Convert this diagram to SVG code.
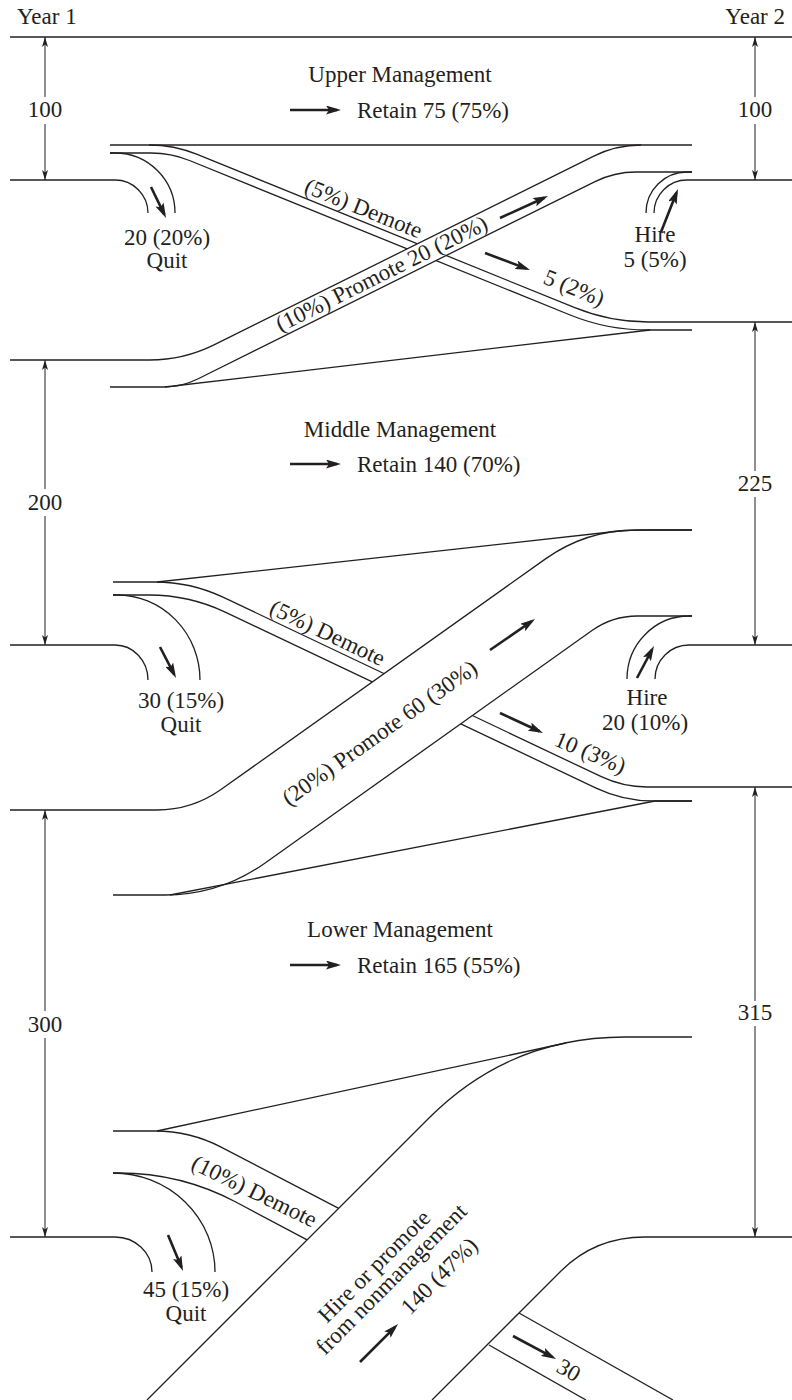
<svg xmlns="http://www.w3.org/2000/svg" width="792" height="1400" viewBox="0 0 792 1400">
  <style>
    .ln { fill: none; stroke: #231f20; stroke-width: 1.3; }
    .dim { fill: none; stroke: #231f20; stroke-width: 1; }
    .bold { fill: none; stroke: #231f20; stroke-width: 2.6; marker-end: url(#head); }
    .cover { fill: #ffffff; stroke: none; }
    text { font-family: "Liberation Serif", "Times New Roman", serif; font-size: 23px; fill: #231f20; }
    .mid { text-anchor: middle; }
    .end { text-anchor: end; }
  </style>
  <defs>
    <marker id="tick" viewBox="0 0 10 6" refX="10" refY="3" markerWidth="10" markerHeight="6" markerUnits="userSpaceOnUse" orient="auto-start-reverse">
      <path d="M0,0 L10,3 L0,6 L2.5,3 z" fill="#231f20"/>
    </marker>
    <marker id="head" viewBox="0 0 15 9" refX="11" refY="4.5" markerWidth="15" markerHeight="9" markerUnits="userSpaceOnUse" orient="auto">
      <path d="M0,0 L15,4.5 L0,9 L3,4.5 z" fill="#231f20"/>
    </marker>
  </defs>

  <!-- time axis -->
  <g id="axis">
    <path class="ln" d="M10,37 H792"/>
    <text x="17" y="24">Year 1</text>
    <text class="end" x="785" y="24">Year 2</text>
  </g>

  <!-- head-count dimension lines -->
  <g id="dimensions">
    <path class="dim" d="M45,37 V97" marker-start="url(#tick)"/>
    <path class="dim" d="M45,124 V180" marker-end="url(#tick)"/>
    <path class="dim" d="M45,360 V489" marker-start="url(#tick)"/>
    <path class="dim" d="M45,516 V645" marker-end="url(#tick)"/>
    <path class="dim" d="M45,810 V1011" marker-start="url(#tick)"/>
    <path class="dim" d="M45,1038 V1237" marker-end="url(#tick)"/>
    <path class="dim" d="M755,37 V97" marker-start="url(#tick)"/>
    <path class="dim" d="M755,124 V180" marker-end="url(#tick)"/>
    <path class="dim" d="M755,322 V471" marker-start="url(#tick)"/>
    <path class="dim" d="M755,497 V645" marker-end="url(#tick)"/>
    <path class="dim" d="M755,787 V1001" marker-start="url(#tick)"/>
    <path class="dim" d="M755,1026 V1237" marker-end="url(#tick)"/>
    <text class="mid" x="45" y="117">100</text>
    <text class="mid" x="45" y="510">200</text>
    <text class="mid" x="45" y="1032">300</text>
    <text class="mid" x="755" y="117">100</text>
    <text class="mid" x="755" y="491">225</text>
    <text class="mid" x="755" y="1020">315</text>
  </g>

  <!-- flow bands -->
  <g id="connectors">
    <!-- upper level -->
    <path class="ln" d="M10,180 H115 A33,33 0 0 1 148,213"/>
    <path class="ln" d="M110,153 H115 A60,60 0 0 1 175,213"/>
    <path class="ln" d="M110,145 H692"/>
    <path class="ln" d="M149,145 Q174,145 197.2,154.4 L574.8,307.7 Q610,322 648,322 H792"/>
    <path class="ln" d="M110,153 H151 Q171.2,153 189.5,160.5 L570.1,315 Q607.1,330 647,330 H692"/>
    <path class="ln" d="M646,213 A41,41 0 0 1 687,172 H692"/>
    <path class="ln" d="M654,213 A33,33 0 0 1 687,180 H792"/>

    <!-- middle level -->
    <path class="ln" d="M165,387 L650,330"/>
    <path class="ln" d="M10,645 H115 A33,35 0 0 1 148,680"/>
    <path class="ln" d="M113,595 H117 A83,85 0 0 1 200,680"/>
    <path class="ln" d="M113,582 H155 Q191,582 223.5,597.4 L601.3,776.7 Q623,787 647,787 H792"/>
    <path class="ln" d="M157,582 L615,531.5 Q630,530 650,530 H692"/>
    <path class="ln" d="M113,595 H149 Q189.1,595 225.2,612.1 L596.1,788.1 Q623.2,801 653.2,801 H692"/>
    <path class="ln" d="M627,679 A62,63 0 0 1 689,616 H692"/>
    <path class="ln" d="M655,679 A34,34 0 0 1 689,645 H792"/>

    <!-- lower level -->
    <path class="ln" d="M170,895 L655,801 H692"/>
    <path class="ln" d="M10,1237 H115 A37,35 0 0 1 152,1272"/>
    <path class="ln" d="M113,1173 A102,99 0 0 1 215,1272"/>
    <path class="ln" d="M113,1131 H155 Q190,1131 221.1,1147.1 L338.7,1208.3"/>
    <path class="ln" d="M157,1131 L566,1043"/>
    <path class="ln" d="M113,1173 H119 Q181,1173 235.8,1202 L307.1,1239.9"/>
    <path class="ln" d="M147,1400 L429,1118 Q510,1037 625,1037 H692"/>
    <path class="ln" d="M432,1400 L561,1271 Q595,1237 645,1237 H792"/>
    <path class="ln" d="M519,1313 L673,1400"/>
    <path class="ln" d="M489,1345 L586,1400"/>

    <!-- promotion bands pass over the demotion bands -->
    <polygon class="cover" points="380,262.4 480,212.7 480,238.7 380,288.4"/>
    <polygon class="cover" points="350,697.8 500,591.3 500,695.8 350,802.3"/>
    <path class="ln" d="M10,360 H149.6 Q183.6,360 214,344.9 L593.8,156.1 Q616.2,145 641.2,145"/>
    <path class="ln" d="M110,387 H163.6 Q181.6,387 197.7,379 L594.5,181.8 Q614.2,172 636.2,172 H692"/>
    <path class="ln" d="M10,810 H157 Q192,810 220.6,789.8 L545.5,558.9 Q586.3,530 636.3,530 H692"/>
    <path class="ln" d="M113,895 H165 Q220,895 264.8,863.2 L592,630.5 Q612.4,616 637.4,616 H692"/>

    <!-- direction arrows -->
    <path class="bold" d="M290,110 L337,110"/>
    <path class="bold" d="M151,187 L164.3,214.4"/>
    <path class="bold" d="M661,232 L676.5,192.7"/>
    <path class="bold" d="M500,218 L544.4,197.7"/>
    <path class="bold" d="M485,253 L526.3,268.6"/>
    <path class="bold" d="M290,464 L337,464"/>
    <path class="bold" d="M160,647 L174.2,674.4"/>
    <path class="bold" d="M637,678 L652.1,649.5"/>
    <path class="bold" d="M490,650 L531.7,621.3"/>
    <path class="bold" d="M500,713 L539.4,731.3"/>
    <path class="bold" d="M290,965 L337,965"/>
    <path class="bold" d="M168,1235 L181.5,1267.3"/>
    <path class="bold" d="M360,1362 L395.2,1326.8"/>
    <path class="bold" d="M513,1336 L552.5,1357.1"/>
  </g>

  <g id="upper-management">
    <text class="mid" x="400" y="82">Upper Management</text>
    <text x="357" y="118">Retain 75 (75%)</text>
    <text class="mid" x="167" y="245">20 (20%)</text>
    <text class="mid" x="167" y="268">Quit</text>
    <text transform="translate(303,192) rotate(22)">(5%) Demote</text>
    <text class="mid" transform="translate(385,280.5) rotate(-26.4)">(10%) Promote 20 (20%)</text>
    <text transform="translate(542,283) rotate(22)">5 (2%)</text>
    <text class="mid" x="655" y="242">Hire</text>
    <text class="mid" x="655" y="267">5 (5%)</text>
  </g>

  <g id="middle-management">
    <text class="mid" x="400" y="437">Middle Management</text>
    <text x="357" y="472">Retain 140 (70%)</text>
    <text class="mid" x="181" y="708">30 (15%)</text>
    <text class="mid" x="181" y="732">Quit</text>
    <text transform="translate(268,613) rotate(25.4)">(5%) Demote</text>
    <text class="mid" transform="translate(384,739) rotate(-35.4)">(20%) Promote 60 (30%)</text>
    <text transform="translate(553,745) rotate(23)">10 (3%)</text>
    <text class="mid" x="647" y="705">Hire</text>
    <text class="mid" x="645" y="730">20 (10%)</text>
  </g>

  <g id="lower-management">
    <text class="mid" x="400" y="937">Lower Management</text>
    <text x="357" y="973">Retain 165 (55%)</text>
    <text class="mid" transform="translate(251,1198) rotate(26)">(10%) Demote</text>
    <text class="mid" x="186" y="1297">45 (15%)</text>
    <text class="mid" x="186" y="1321">Quit</text>
    <text transform="translate(327,1324) rotate(-45)">Hire or promote</text>
    <text transform="translate(325,1356) rotate(-45)">from nonmanagement</text>
    <text transform="translate(410,1316) rotate(-45)">140 (47%)</text>
    <text transform="translate(555,1371) rotate(30)">30</text>
  </g>
</svg>
